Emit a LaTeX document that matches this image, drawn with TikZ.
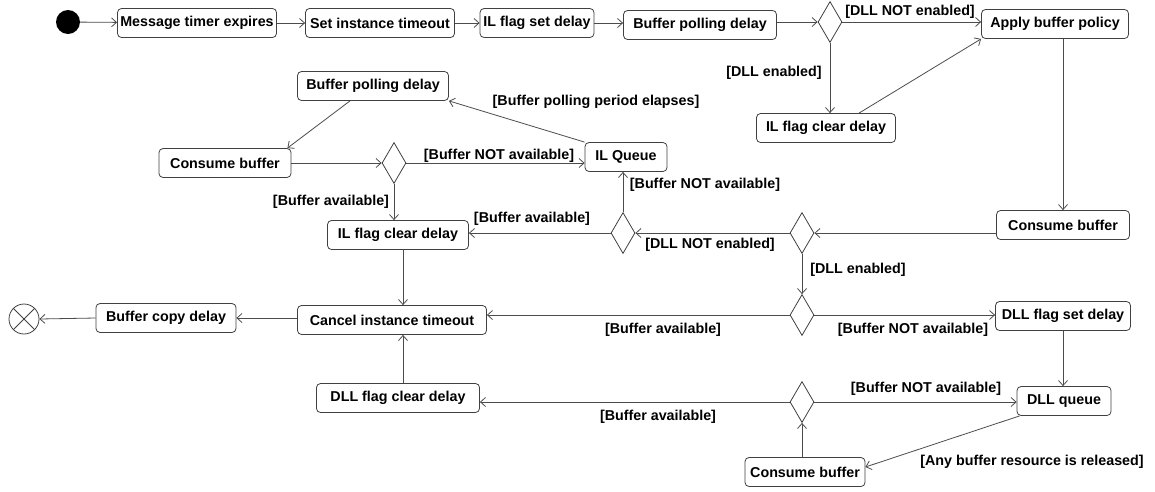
\documentclass[tikz,border=0pt]{standalone}
\usepackage{fontspec}
\setmainfont{Liberation Sans}
\usetikzlibrary{shapes.geometric,arrows.meta}
\begin{document}
\begin{tikzpicture}[x=1pt,y=-1pt,
 act/.style={draw=black!75, rounded corners=4pt, minimum height=29pt, inner sep=2pt, font=\fontsize{14.3}{16}\selectfont\bfseries, fill=white, line width=0.8pt},
 dec/.style={draw=black!75, diamond, minimum width=24pt, minimum height=41pt, inner sep=0pt, line width=0.8pt},
 flow/.style={draw=black!70, line width=0.8pt, -{Straight Barb[length=5pt,width=9pt]}},
 guard/.style={font=\fontsize{14.3}{16}\selectfont\bfseries, inner sep=0pt}]
\useasboundingbox (0,0) rectangle (1155,491);
% nodes
\node[circle, fill=black, minimum size=24pt, inner sep=0pt] (init) at (68,22) {};
\node[act, minimum width=159pt] (mte) at (197,23) {Message timer expires};
\node[act, minimum width=149pt] (sit) at (380,23) {Set instance timeout};
\node[act, minimum width=114pt] (ilset) at (537,23) {IL flag set delay};
\node[act, minimum width=153pt] (bp1) at (700,25) {Buffer polling delay};
\node[dec] (d1) at (830,22) {};
\node[act, minimum width=147pt] (abp) at (1055,24) {Apply buffer policy};
\node[act, minimum width=139pt] (ilc1) at (826,128) {IL flag clear delay};
\node[act, minimum width=151pt] (bp2) at (373,86) {Buffer polling delay};
\node[act, minimum width=132pt] (cb1) at (225,163) {Consume buffer};
\node[dec] (d5) at (394,163) {};
\node[act, minimum width=82pt] (ilq) at (626,157) {IL Queue};
\node[act, minimum width=141pt] (ilc2) at (398,235) {IL flag clear delay};
\node[dec] (d3) at (623,233) {};
\node[dec] (d2) at (802,233) {};
\node[act, minimum width=133pt] (cb2) at (1063,225) {Consume buffer};
\node[dec] (d4) at (802,315) {};
\node[act, minimum width=189pt] (cit) at (392,320) {Cancel instance timeout};
\node[act, minimum width=140pt] (bcd) at (166,318) {Buffer copy delay};
\node[circle, draw=black!75, minimum size=30pt, inner sep=0pt, line width=0.8pt] (fin) at (24,319) {};
\draw[draw=black!75, line width=0.8pt] (fin.north west) -- (fin.south east) (fin.north east) -- (fin.south west);
\node[act, minimum width=135pt] (dfs) at (1063,316) {DLL flag set delay};
\node[act, minimum width=94pt] (dq) at (1064,401) {DLL queue};
\node[dec] (d6) at (802,402) {};
\node[act, minimum width=163pt] (dfc) at (398,398) {DLL flag clear delay};
\node[act, minimum width=120pt] (cb3) at (805,472) {Consume buffer};
% connectors
\draw[flow] (init) -- (mte);
\draw[flow] (mte) -- (sit);
\draw[flow] (sit) -- (ilset);
\draw[flow] (ilset.east) -- (ilset.east -| bp1.west);
\draw[flow] (bp1.east |- d1.west) -- (d1.west);
\draw[flow] (d1.east) -- (d1.east -| abp.west);
\draw[flow] (d1.south) -- (d1.south |- ilc1.north);
\draw[flow] ([xshift=33pt]ilc1.north) -- (abp.south west);
\draw[flow] ([xshift=8pt]abp.south) -- ([xshift=8pt]abp.south |- cb2.north);
\draw[flow] (cb2.west |- d2.east) -- (d2.east);
\draw[flow] (d2.west) -- (d3.east);
\draw[flow] (d3.west) -- (d3.west -| ilc2.east);
\draw[flow] (d3.north) -- (d3.north |- ilq.south);
\draw[flow] (ilq.north west) -- (bp2.south east);
\draw[flow] ([xshift=-23pt]bp2.south) -- ([xshift=-4pt]cb1.north east);
\draw[flow] (cb1.east) -- (d5.west);
\draw[flow] (d5.east) -- (d5.east -| ilq.west);
\draw[flow] (d5.south) -- (d5.south |- ilc2.north);
\draw[flow] ([xshift=5pt]ilc2.south) -- ([xshift=5pt]ilc2.south |- cit.north);
\draw[flow] (d2.south) -- (d4.north);
\draw[flow] (d4.west) -- (d4.west -| cit.east);
\draw[flow] (d4.east) -- (d4.east -| dfs.west);
\draw[flow] (cit.west |- bcd.east) -- (bcd.east);
\draw[flow] (bcd.west) -- (fin.east);
\draw[flow] (dfs.south) -- (dfs.south |- dq.north);
\draw[flow] (d6.east) -- (d6.east -| dq.west);
\draw[flow] (d6.west) -- (d6.west -| dfc.east);
\draw[flow] ([xshift=5pt]dfc.north) -- ([xshift=5pt]dfc.north |- cit.south);
\draw[flow] ([xshift=3pt]dq.south west) -- ([yshift=5pt]cb3.east);
\draw[flow] ([xshift=-3pt]cb3.north) -- ([xshift=-3pt]cb3.north |- d6.south);
% guards
\node[guard] (g1) at (910,12) {[DLL NOT enabled]};
\node[guard] (g2) at (774,73) {[DLL enabled]};
\node[guard] (g3) at (596,102) {[Buffer polling period elapses]};
\node[guard] (g4) at (499,156) {[Buffer NOT available]};
\node[guard] (g5) at (705,185) {[Buffer NOT available]};
\node[guard] (g6) at (331,202) {[Buffer available]};
\node[guard] (g7) at (532,219) {[Buffer available]};
\node[guard] (g8) at (710,245) {[DLL NOT enabled]};
\node[guard] (g9) at (858,270) {[DLL enabled]};
\node[guard] (g10) at (663,330) {[Buffer available]};
\node[guard] (g11) at (913,330) {[Buffer NOT available]};
\node[guard] (g12) at (926,389) {[Buffer NOT available]};
\node[guard] (g13) at (658,417) {[Buffer available]};
\node[guard] (g14) at (1032,462) {[Any buffer resource is released]};
\end{tikzpicture}
\end{document}
